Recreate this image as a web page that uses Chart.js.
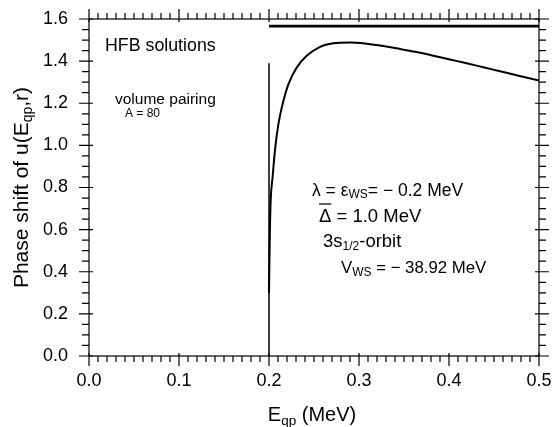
<!DOCTYPE html>
<html><head><meta charset="utf-8">
<script src="https://cdn.jsdelivr.net/npm/chart.js@4/dist/chart.umd.min.js"></script>
<style>html,body{margin:0;padding:0;background:#fff;overflow:hidden}</style>
</head><body>
<canvas id="c" width="553" height="427" style="width:553px;height:427px;display:block"></canvas>
<script>
// ---- data ----
const xTickValues = [0.0, 0.1, 0.2, 0.3, 0.4, 0.5];
const yTickValues = [0.0, 0.2, 0.4, 0.6, 0.8, 1.0, 1.2, 1.4, 1.6];
const curveE = [0.2000, 0.2010, 0.2020, 0.2040, 0.2067, 0.2104, 0.2159, 0.2215, 0.2308, 0.2419, 0.2567, 0.2715, 0.2900, 0.3085, 0.3270, 0.3456, 0.3640, 0.3826, 0.4010, 0.4196, 0.4380, 0.4567, 0.4750, 0.5000];
const curvePhase = [0.30, 0.60, 0.75, 0.85, 0.98, 1.10, 1.21, 1.29, 1.37, 1.425, 1.468, 1.485, 1.489, 1.483, 1.472, 1.458, 1.443, 1.426, 1.408, 1.390, 1.371, 1.352, 1.333, 1.308];
const spikeE = [0.2, 0.2];
const spikePhase = [0.0, 1.39];
const limitE = [0.2, 0.5];
const limitPhase = [1.566, 1.566];

const FONT = "'Liberation Sans', Arial, Helvetica, sans-serif";
const pts = (xs, ys) => xs.map((x, i) => ({x, y: ys[i]}));

function drawRich(ctx, parts, x, y, align) {
  let w = 0;
  parts.forEach(p => { ctx.font = p.size + 'px ' + FONT; p.w = ctx.measureText(p.t).width; w += p.w; });
  let cx = align === 'center' ? x - w / 2 : x;
  ctx.textAlign = 'left'; ctx.textBaseline = 'alphabetic'; ctx.fillStyle = '#000';
  const pos = [];
  parts.forEach(p => { ctx.font = p.size + 'px ' + FONT; ctx.fillText(p.t, cx, y + (p.dy || 0)); pos.push(cx); cx += p.w; });
  pos.push(cx);
  return pos;
}

const frameTicks = {
  id: 'frameTicks',
  afterDraw(chart) {
    const ctx = chart.ctx, a = chart.chartArea, xs = chart.scales.x, ys = chart.scales.y;
    ctx.save();
    ctx.strokeStyle = '#000'; ctx.lineWidth = 1.2;
    ctx.strokeRect(a.left, a.top, a.right - a.left, a.bottom - a.top);
    ctx.beginPath();
    for (let i = 0; i <= 50; i++) {
      const v = i / 100, px = xs.getPixelForValue(v), major = i % 10 === 0;
      ctx.moveTo(px, a.bottom - (major ? 3 : 0)); ctx.lineTo(px, a.bottom + (major ? 10 : 6));
      ctx.moveTo(px, a.top + (major ? 3 : 0)); ctx.lineTo(px, a.top - (major ? 10 : 6));
    }
    for (let i = 0; i <= 32; i++) {
      const v = i * 0.05, py = ys.getPixelForValue(v), major = i % 4 === 0;
      ctx.moveTo(a.left + (major ? 4 : 0), py); ctx.lineTo(a.left - (major ? 10 : 7), py);
      ctx.moveTo(a.right - (major ? 4 : 0), py); ctx.lineTo(a.right + (major ? 10 : 7), py);
    }
    ctx.stroke();

    // axis titles
    drawRich(ctx, [{t: 'E', size: 20}, {t: 'qp', size: 13.5, dy: 4}, {t: ' (MeV)', size: 20}], (a.left + a.right) / 2 - 2, 421, 'center');
    ctx.save();
    ctx.translate(28, (a.top + a.bottom) / 2);
    ctx.rotate(-Math.PI / 2);
    drawRich(ctx, [{t: 'Phase shift of u(E', size: 21}, {t: 'qp', size: 14, dy: 4}, {t: ',r)', size: 21}], 0, 0, 'center');
    ctx.restore();

    // annotations
    drawRich(ctx, [{t: 'HFB solutions', size: 17.8}], a.left + 16, 51);
    drawRich(ctx, [{t: 'volume pairing', size: 15.5}], a.left + 26, 104);
    drawRich(ctx, [{t: 'A = 80', size: 12}], a.left + 36, 117);

    const s = 12;
    drawRich(ctx, [{t: '\u03bb = \u03b5', size: 17.5}, {t: 'WS', size: s, dy: 2}, {t: '= \u2212 0.2 MeV', size: 17.5}], 312, 196);
    const p = drawRich(ctx, [{t: '\u0394', size: 18.5}, {t: ' = 1.0 MeV', size: 18.5}], 319, 222);
    ctx.beginPath(); ctx.lineWidth = 1.2; ctx.moveTo(p[0], 204); ctx.lineTo(p[1], 204); ctx.stroke();
    drawRich(ctx, [{t: '3s', size: 18.5}, {t: '1/2', size: s, dy: 3}, {t: '-orbit', size: 18.5}], 323, 247);
    drawRich(ctx, [{t: 'V', size: 16.8}, {t: 'WS', size: s, dy: 3}, {t: ' = \u2212 38.92 MeV', size: 16.8}], 341, 273);
    ctx.restore();
  }
};

new Chart(document.getElementById('c'), {
  type: 'scatter',
  data: {
    datasets: [
      {data: pts(spikeE, spikePhase), showLine: true, borderColor: '#000', borderWidth: 1.5, pointRadius: 0, tension: 0},
      {data: pts(curveE, curvePhase), showLine: true, borderColor: '#000', borderWidth: 2, pointRadius: 0, cubicInterpolationMode: 'monotone'},
      {data: pts(limitE, limitPhase), showLine: true, borderColor: '#000', borderWidth: 2.6, pointRadius: 0, tension: 0}
    ]
  },
  options: {
    responsive: false, animation: false, devicePixelRatio: 1,
    layout: {padding: {top: 19, right: 14, bottom: 0, left: 0}},
    plugins: {legend: {display: false}, tooltip: {enabled: false}},
    scales: {
      x: {
        type: 'linear', min: 0, max: 0.5,
        afterBuildTicks: s => { s.ticks = xTickValues.map(v => ({value: v})); },
        ticks: {callback: v => v.toFixed(1), font: {family: FONT, size: 18}, color: '#000', padding: 14, maxRotation: 0},
        grid: {display: false, drawTicks: false}, border: {display: false},
        afterFit: s => { s.height = 71; s.paddingLeft = 0; s.paddingRight = 0; }
      },
      y: {
        type: 'linear', min: 0, max: 1.6,
        afterBuildTicks: s => { s.ticks = yTickValues.map(v => ({value: v})); },
        ticks: {callback: v => v.toFixed(1), font: {family: FONT, size: 18}, color: '#000', padding: 21},
        grid: {display: false, drawTicks: false}, border: {display: false},
        afterFit: s => { s.width = 89; s.paddingTop = 0; s.paddingBottom = 0; }
      }
    }
  },
  plugins: [frameTicks]
});
</script>
</body></html>
